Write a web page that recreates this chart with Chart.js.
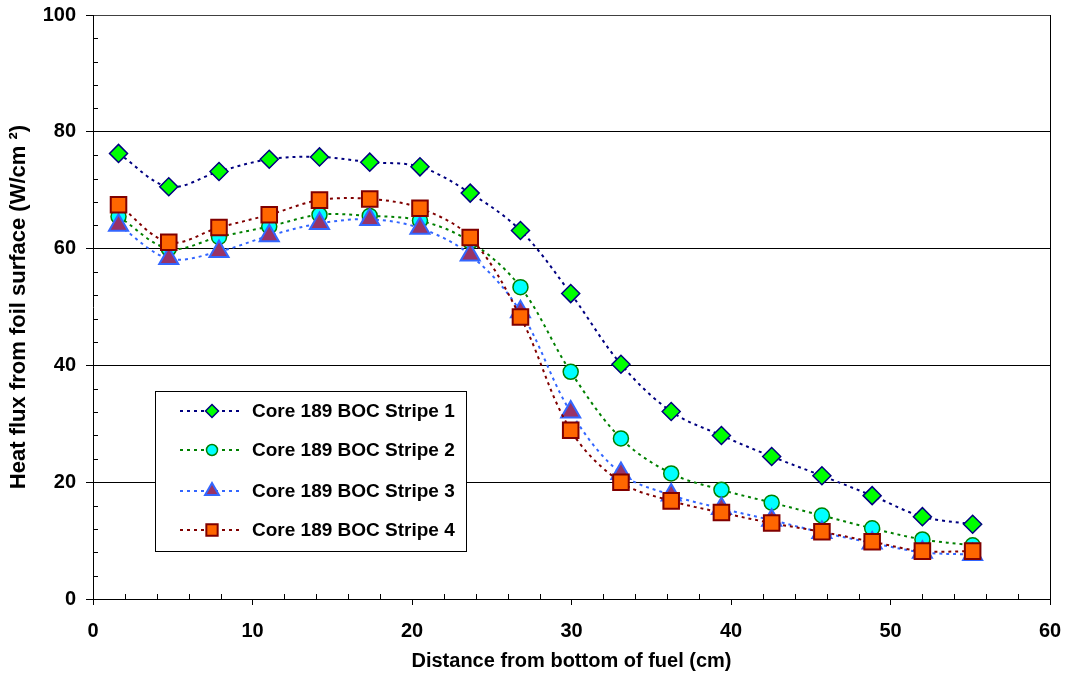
<!DOCTYPE html>
<html>
<head>
<meta charset="utf-8">
<script src="https://cdn.jsdelivr.net/npm/chart.js@4.4.1/dist/chart.umd.min.js"></script>
<style>
  html, body { margin: 0; padding: 0; background: #fff; }
  #wrap { width: 1068px; height: 683px; }
</style>
</head>
<body>
<div id="wrap"><canvas id="chart"></canvas></div>
<script>
// distance from bottom of fuel (cm)
const distance = [1.6, 4.75, 7.9, 11.05, 14.2, 17.35, 20.5, 23.65, 26.8, 29.95, 33.1, 36.25, 39.4, 42.55, 45.7, 48.85, 52.0, 55.15];

// heat flux (W/cm2)
const stripe1 = [76.3, 70.6, 73.2, 75.3, 75.7, 74.8, 74.0, 69.5, 63.1, 52.3, 40.2, 32.1, 28.0, 24.4, 21.1, 17.7, 14.1, 12.8];
const stripe2 = [65.5, 60.0, 62.0, 63.8, 65.8, 65.6, 64.8, 61.2, 53.4, 38.9, 27.5, 21.5, 18.7, 16.5, 14.3, 12.1, 10.2, 9.2];
const stripe3 = [64.0, 58.3, 59.5, 62.2, 64.3, 65.0, 63.5, 58.9, 49.2, 32.0, 21.5, 17.8, 15.5, 13.5, 11.4, 9.6, 8.0, 7.6];
const stripe4 = [67.5, 61.1, 63.6, 65.8, 68.3, 68.5, 66.9, 61.9, 48.3, 28.9, 20.0, 16.8, 14.8, 13.0, 11.5, 9.8, 8.2, 8.2];

const seriesNames = ['Core 189 BOC Stripe 1', 'Core 189 BOC Stripe 2', 'Core 189 BOC Stripe 3', 'Core 189 BOC Stripe 4'];
const xTickValues = [0, 10, 20, 30, 40, 50, 60];
const yTickValues = [0, 20, 40, 60, 80, 100];

const FONT = 'Arial, "Liberation Sans", sans-serif';

const styles = [
    { line: '#000080', fill: '#00FF00', border: '#000080', shape: 'rectRot', r: 9, bw: 1.5, lr: 6.5 },
    { line: '#008000', fill: '#00FFFF', border: '#008000', shape: 'circle', r: 7.5, bw: 1.5, lr: 5.5 },
    { line: '#3366FF', fill: '#993366', border: '#3366FF', shape: 'triangle', r: 11, bw: 2, lr: 8 },
    { line: '#800000', fill: '#FF6600', border: '#800000', shape: 'rect', r: 11, bw: 2, lr: 8 }
];
const allSeries = [stripe1, stripe2, stripe3, stripe4];

const datasets = allSeries.map((vals, i) => ({
    label: seriesNames[i],
    data: vals.map((v, j) => ({ x: distance[j], y: v })),
    borderColor: styles[i].line,
    borderWidth: 2,
    borderDash: [3, 4],
    tension: 0.35,
    pointStyle: styles[i].shape,
    pointRadius: styles[i].r,
    pointBackgroundColor: styles[i].fill,
    pointBorderColor: styles[i].border,
    pointBorderWidth: styles[i].bw,
    order: 3 - i
}));

// minor ticks, right border, and the boxed legend inside the plot
const extras = {
    id: 'extras',
    afterDraw(chart) {
        const ctx = chart.ctx;
        const a = chart.chartArea;
        const xs = chart.scales.x, ys = chart.scales.y;
        ctx.save();
        ctx.strokeStyle = '#000';
        ctx.lineWidth = 1;
        ctx.beginPath();
        for (let v = 4; v < 100; v += 4) {
            if (v % 20 === 0) continue;
            const y = Math.round(ys.getPixelForValue(v)) + 0.5;
            ctx.moveTo(a.left, y);
            ctx.lineTo(a.left + 5, y);
        }
        for (let v = 2; v < 60; v += 2) {
            if (v % 10 === 0) continue;
            const x = Math.round(xs.getPixelForValue(v)) + 0.5;
            ctx.moveTo(x, a.bottom);
            ctx.lineTo(x, a.bottom - 5);
        }
        ctx.stroke();
        ctx.beginPath();
        ctx.moveTo(Math.round(a.right) + 0.5, a.top);
        ctx.lineTo(Math.round(a.right) + 0.5, a.bottom);
        ctx.stroke();

        // legend
        const bx = 155.5, by = 391.5, bw = 311, bh = 160;
        ctx.fillStyle = '#fff';
        ctx.fillRect(bx, by, bw, bh);
        ctx.strokeStyle = '#000';
        ctx.strokeRect(bx, by, bw, bh);
        const rows = [411, 450, 491, 530];
        ctx.font = 'bold 19px ' + FONT;
        ctx.textBaseline = 'middle';
        seriesNames.forEach((name, i) => {
            const s = styles[i];
            const y = rows[i];
            ctx.save();
            ctx.strokeStyle = s.line;
            ctx.lineWidth = 2;
            ctx.setLineDash([3, 4]);
            ctx.beginPath();
            ctx.moveTo(180, y);
            ctx.lineTo(243, y);
            ctx.stroke();
            ctx.restore();
            ctx.fillStyle = s.fill;
            ctx.strokeStyle = s.border;
            ctx.lineWidth = s.bw;
            Chart.helpers.drawPoint(ctx, { pointStyle: s.shape, radius: s.lr, rotation: 0, borderWidth: s.bw }, 212, y);
            ctx.fillStyle = '#000';
            ctx.fillText(name, 252, y + 1);
        });
        ctx.restore();
    }
};

new Chart(document.getElementById('chart'), {
    type: 'line',
    data: { datasets },
    options: {
        responsive: true,
        maintainAspectRatio: false,
        animation: false,
        layout: { padding: { top: 15, right: 18, left: 0, bottom: 0 } },
        plugins: { legend: { display: false }, tooltip: { enabled: false } },
        scales: {
            x: {
                type: 'linear',
                min: 0,
                max: 60,
                afterBuildTicks: (s) => { s.ticks = xTickValues.map(v => ({ value: v })); },
                afterFit: (s) => { s.height = 84; s.paddingLeft = 0; s.paddingRight = 0; },
                ticks: { color: '#000', font: { family: FONT, size: 20, weight: 'bold' }, padding: 14, maxRotation: 0 },
                grid: { drawOnChartArea: false, drawTicks: true, tickLength: 6, color: '#000' },
                border: { color: '#000', width: 1 },
                title: {
                    display: true,
                    text: 'Distance from bottom of fuel (cm)',
                    color: '#000',
                    font: { family: FONT, size: 20, weight: 'bold' },
                    padding: { top: 0, bottom: 10 }
                }
            },
            y: {
                min: 0,
                max: 100,
                afterBuildTicks: (s) => { s.ticks = yTickValues.map(v => ({ value: v })); },
                afterFit: (s) => { s.width = 93; s.paddingTop = 0; s.paddingBottom = 0; },
                ticks: { color: '#000', font: { family: FONT, size: 20, weight: 'bold' }, padding: 10 },
                grid: {
                    color: (c) => (c.tick && c.tick.value === 100) ? '#404040' : '#000',
                    tickColor: '#000',
                    tickLength: 7,
                    lineWidth: 1
                },
                border: { color: '#000', width: 1 },
                title: {
                    display: true,
                    text: 'Heat flux from foil surface (W/cm ²)',
                    color: '#000',
                    font: { family: FONT, size: 22, weight: 'bold' },
                    padding: { top: 6, bottom: 0 }
                }
            }
        }
    },
    plugins: [extras]
});
</script>
</body>
</html>
